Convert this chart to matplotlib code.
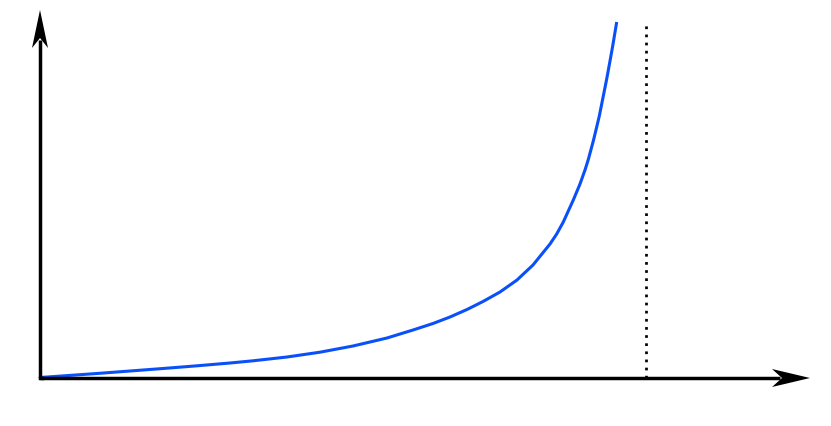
import matplotlib
matplotlib.use("Agg")
import matplotlib.pyplot as plt
from matplotlib.patches import Polygon

# curve (arbitrary units, origin at the axes corner)
curve_x = [0.00, 0.10, 0.57, 0.90, 1.23, 1.57, 1.90, 2.13, 2.47, 2.80,
           3.13, 3.47, 3.60, 3.73, 3.93, 4.10, 4.27, 4.43, 4.60, 4.77,
           4.93, 5.10, 5.167, 5.233, 5.333, 5.40, 5.45, 5.483, 5.533, 5.567,
           5.593, 5.643, 5.667, 5.70, 5.727, 5.767]
curve_y = [0.005, 0.012, 0.045, 0.070, 0.095, 0.122, 0.150, 0.172, 0.210, 0.258,
           0.320, 0.400, 0.440, 0.480, 0.545, 0.610, 0.685, 0.765, 0.860, 0.980,
           1.130, 1.340, 1.440, 1.560, 1.780, 1.940, 2.080, 2.185, 2.370, 2.510,
           2.620, 2.870, 2.990, 3.170, 3.320, 3.560]

asymptote_x = 6.06
asymptote_top = 3.53

x_end = 7.70   # x axis arrow tip
y_end = 3.68   # y axis arrow tip

fig = plt.figure(figsize=(8.31, 4.26), dpi=100)
ax = fig.add_axes([0, 0, 1, 1])
ax.set_xlim(-0.40, 7.91)
ax.set_ylim(-0.48, 3.78)
ax.axis("off")

# curve
ax.plot(curve_x, curve_y, color="#0a50fa", lw=2.2, solid_capstyle="butt",
        solid_joinstyle="round", zorder=3)

# asymptote
ax.plot([asymptote_x, asymptote_x], [0, asymptote_top], color="black", lw=1.95,
        linestyle=(0, (1, 2)), dash_capstyle="butt", zorder=2)

# axes with notched arrow heads
ax.plot([0, x_end - 0.30], [0, 0], color="black", lw=2.5, solid_capstyle="butt", zorder=4)
ax.plot([0, 0], [0, y_end - 0.30], color="black", lw=2.5, solid_capstyle="butt", zorder=4)
ax.plot([0, 0.02], [0, 0], color="black", lw=2.5, solid_capstyle="projecting", zorder=4)

head_x = Polygon([[x_end, 0], [x_end - 0.38, 0.09], [x_end - 0.28, 0], [x_end - 0.38, -0.09]],
                 closed=True, color="black", lw=0, zorder=5)
head_y = Polygon([[0, y_end], [0.08, y_end - 0.38], [0, y_end - 0.28], [-0.08, y_end - 0.38]],
                 closed=True, color="black", lw=0, zorder=5)
ax.add_patch(head_x)
ax.add_patch(head_y)

fig.savefig("out.png", dpi=100, facecolor="white")
